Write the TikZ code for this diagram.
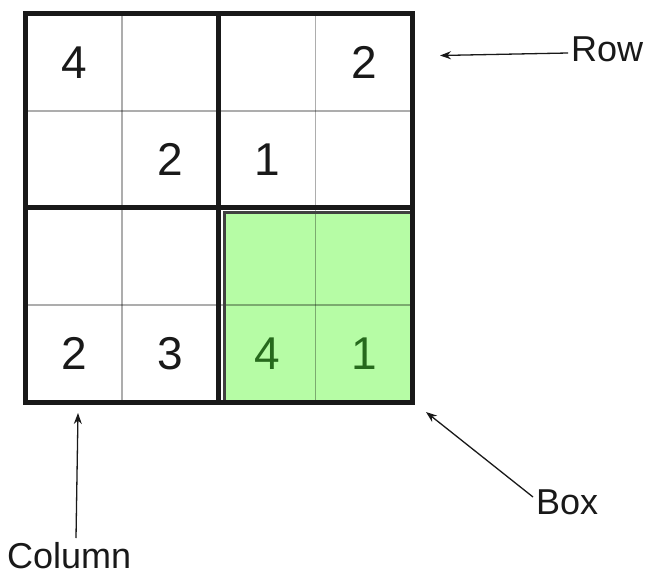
\documentclass[tikz,border=0pt]{standalone}
\usepackage{fontspec}
\setmainfont{Liberation Sans}
\usetikzlibrary{arrows.meta}
\definecolor{boxgreen}{RGB}{182,252,165}
\definecolor{digitgreen}{RGB}{38,105,28}
\definecolor{ink}{RGB}{25,25,25}
\begin{document}
\begin{tikzpicture}[x=1pt,y=-1pt,
  thinline/.style={line width=1.4pt,draw=black,draw opacity=0.32},
  thickline/.style={line width=5pt,draw=ink},
  digit/.style={inner sep=0pt,text=ink,font=\fontsize{46}{50}\selectfont},
  gdigit/.style={digit,text=digitgreen},
  lbl/.style={inner sep=0pt,text=ink,font=\fontsize{36}{40}\selectfont},
  arr/.style={line width=1.3pt,draw=ink,-{Stealth[length=11pt,width=8pt]}}]
\useasboundingbox (0,0) rectangle (647,575);
% green box
\fill[boxgreen] (224.5,212.5) rectangle (412,402);
% thin lines
\draw[thinline] (122,14) -- (122,402);
\draw[thinline] (315.3,14) -- (315.3,402);
\draw[thinline] (25.5,111) -- (412,111);
\draw[thinline] (25.5,305) -- (412,305);
% green box border
\draw[line width=3pt,draw=black!75] (224.5,212.5) rectangle (412,402);
% thick lines
\draw[thickline] (218.5,14) -- (218.5,402);
\draw[thickline] (25.5,207.5) -- (412,207.5);
\draw[thickline] (25.5,14) rectangle (412,402);
% digits
\node[digit] (d11) at (74,62.5) {4};
\node[digit] (d14) at (364,62.5) {2};
\node[digit] (d22) at (170.5,159.5) {2};
\node[digit] (d23) at (267,159.5) {1};
\node[digit] (d41) at (74,353.5) {2};
\node[digit] (d42) at (170.5,353.5) {3};
\node[gdigit] (d43) at (267,353.5) {4};
\node[gdigit] (d44) at (364,353.5) {1};
% labels
\node[lbl,anchor=base west] (row) at (571,62) {Row};
\node[lbl,anchor=base west] (box) at (536,514) {Box};
\node[lbl,anchor=base west] (col) at (7,568.5) {Column};
\coordinate (rowtail) at (568,53);
\coordinate (rowtip) at (440,55.5);
\coordinate (boxtail) at (533,497);
\coordinate (boxtip) at (426,412);
\coordinate (coltail) at (76,538);
\coordinate (coltip) at (78,413);
\draw[arr] (rowtail) -- (rowtip);
\draw[arr] (boxtail) -- (boxtip);
\draw[arr] (coltail) -- (coltip);
\end{tikzpicture}
\end{document}
